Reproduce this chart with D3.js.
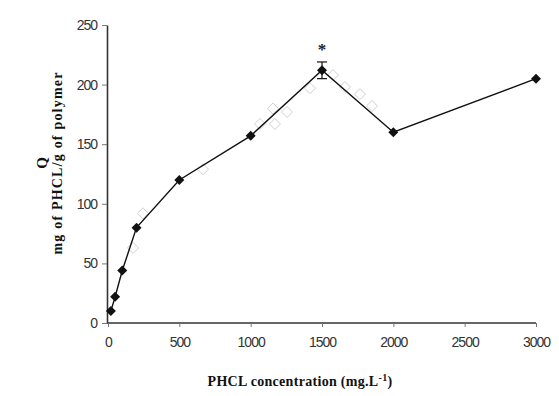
<!DOCTYPE html>
<html>
<head>
<meta charset="utf-8">
<script src="https://cdn.jsdelivr.net/npm/d3@7"></script>
<style>
  html, body { margin: 0; padding: 0; background: #fff; }
  svg { display: block; }
</style>
</head>
<body>
<svg id="chart" width="559" height="396"></svg>
<script>
// Adsorption capacity Q versus PHCL concentration
const concentration = [20, 50, 100, 200, 500, 1000, 1500, 2000, 3000];
const capacity      = [10, 22, 44, 80, 120, 157, 212, 160, 205];

// Standard deviation shown at the peak point
const errorAt = 1500;
const errorValue = 7;

// Faint open-diamond replicate readings
const replicateX = [175, 245, 666, 1065, 1156, 1170, 1255, 1416, 1577, 1661, 1766, 1850];
const replicateY = [63, 92, 129, 167, 180, 167, 177, 197, 208, 198, 192, 182];

const xTicks = [0, 500, 1000, 1500, 2000, 2500, 3000];
const yTicks = [0, 50, 100, 150, 200, 250];

const svg = d3.select("#chart");
const margin = { left: 107, right: 23, top: 25, bottom: 73 };
const W = 559, H = 396;

const x = d3.scaleLinear().domain([0, 3000]).range([margin.left + 1, W - margin.right]);
const y = d3.scaleLinear().domain([0, 250]).range([H - margin.bottom, margin.top]);

const tickFont = "'Liberation Sans', Arial, sans-serif";
const titleFont = "'Liberation Serif', 'Times New Roman', serif";

// Square diamond marker of half-diagonal r
const diamondPath = r => `M0,${-r}L${r},0L0,${r}L${-r},0Z`;

// Axes
const xAxis = d3.axisBottom(x).tickValues(xTicks).tickFormat(d3.format("d"))
  .tickSize(4).tickSizeOuter(0).tickPadding(10);
const yAxis = d3.axisLeft(y).tickValues(yTicks).tickFormat(d3.format("d"))
  .tickSize(5).tickSizeOuter(0).tickPadding(5);

const gx = svg.append("g").attr("transform", `translate(0,${y(0)})`).call(xAxis);
const gy = svg.append("g").attr("transform", `translate(${margin.left},0)`).call(yAxis);

[gx, gy].forEach(g => {
  g.select(".domain").attr("stroke", "#333").attr("stroke-width", 1.6);
  g.selectAll(".tick line").attr("stroke", "#777").attr("stroke-width", 1);
  g.selectAll(".tick text")
    .attr("font-family", tickFont)
    .attr("font-size", 14)
    .attr("fill", "#333")
    .attr("letter-spacing", -1);
});
gx.select(".domain").attr("d", `M${margin.left},0H${x(3000)}`);

// Faint replicate diamonds
svg.append("g").selectAll("path")
  .data(replicateX.map((v, i) => [v, replicateY[i]]))
  .join("path")
  .attr("d", diamondPath(5.5))
  .attr("transform", d => `translate(${x(d[0])},${y(d[1])})`)
  .attr("fill", "none")
  .attr("stroke", "#d0d0d0")
  .attr("stroke-width", 1);

// Error bar at the peak
const peakIdx = concentration.indexOf(errorAt);
const peakY = capacity[peakIdx];
const eg = svg.append("g").attr("stroke", "#111").attr("stroke-width", 1.2);
eg.append("line")
  .attr("x1", x(errorAt)).attr("x2", x(errorAt))
  .attr("y1", y(peakY - errorValue)).attr("y2", y(peakY + errorValue));
eg.append("line")
  .attr("x1", x(errorAt) - 5).attr("x2", x(errorAt) + 5)
  .attr("y1", y(peakY + errorValue)).attr("y2", y(peakY + errorValue));
eg.append("line")
  .attr("x1", x(errorAt) - 5).attr("x2", x(errorAt) + 5)
  .attr("y1", y(peakY - errorValue)).attr("y2", y(peakY - errorValue));

// Significance mark
svg.append("text")
  .attr("x", x(errorAt))
  .attr("y", y(peakY + errorValue) - 7)
  .attr("text-anchor", "middle")
  .attr("font-family", titleFont)
  .attr("font-weight", "bold")
  .attr("font-size", 17)
  .attr("fill", "#222")
  .text("*");

// Main series
const line = d3.line().x((d, i) => x(concentration[i])).y(d => y(d));
svg.append("path")
  .datum(capacity)
  .attr("d", line)
  .attr("fill", "none")
  .attr("stroke", "#111")
  .attr("stroke-width", 1.4);

svg.append("g").selectAll("path")
  .data(capacity)
  .join("path")
  .attr("d", diamondPath(5))
  .attr("transform", (d, i) => `translate(${x(concentration[i])},${y(d)})`)
  .attr("fill", "#111");

// Axis titles
const xt = svg.append("text")
  .attr("x", 300)
  .attr("y", 386)
  .attr("text-anchor", "middle")
  .attr("font-family", titleFont)
  .attr("font-weight", "bold")
  .attr("font-size", 14)
  .attr("letter-spacing", 0.3)
  .attr("fill", "#111");
xt.append("tspan").text("PHCL concentration (mg.L");
xt.append("tspan").attr("dy", -5).attr("font-size", 10).text("-1");
xt.append("tspan").attr("dy", 5).text(")");

const yt = svg.append("g").attr("transform", "translate(47,163) rotate(-90)");
yt.append("text")
  .attr("x", 0).attr("y", 0)
  .attr("text-anchor", "middle")
  .attr("font-family", titleFont)
  .attr("font-weight", "bold")
  .attr("font-size", 15)
  .attr("fill", "#111")
  .text("Q");
yt.append("text")
  .attr("x", 0).attr("y", 15)
  .attr("text-anchor", "middle")
  .attr("font-family", titleFont)
  .attr("font-weight", "bold")
  .attr("font-size", 14)
  .attr("letter-spacing", 1.2)
  .attr("fill", "#111")
  .text("mg of PHCL/g of polymer");
</script>
</body>
</html>
